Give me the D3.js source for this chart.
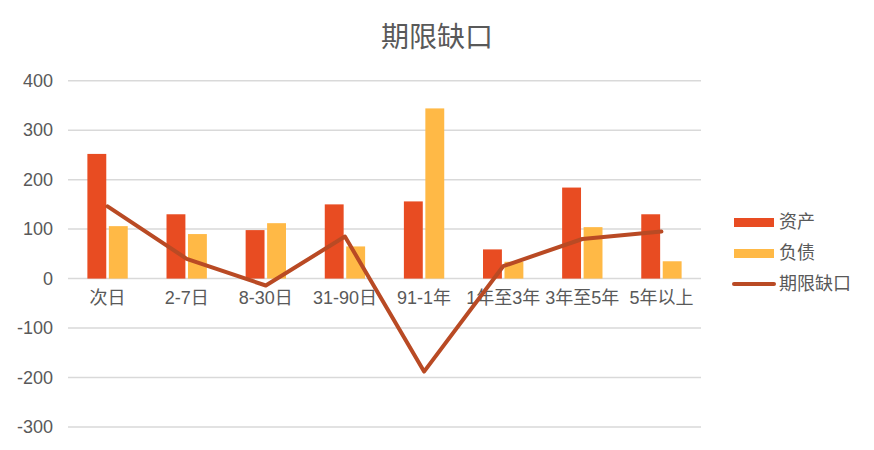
<!DOCTYPE html>
<html lang="zh">
<head>
  <meta charset="UTF-8" />
  <title>期限缺口</title>
  <script src="https://d3js.org/d3.v7.min.js"></script>
  <style>
    * { margin: 0; padding: 0; box-sizing: border-box; }
    body { background: #fff; font-family: "Noto Sans CJK SC", "Liberation Sans", sans-serif; }
  </style>
</head>
<body>
  <script>
    // data
    const categories = ['次日', '2-7日', '8-30日', '31-90日', '91-1年', '1年至3年', '3年至5年', '5年以上'];
    const assets = [252, 130, 98, 150, 156, 59, 184, 130];
    const liabilities = [106, 90, 112, 65, 344, 34, 104, 35];
    const gap = [146, 40, -14, 85, -188, 25, 80, 95];
    const yTicks = [-300, -200, -100, 0, 100, 200, 300, 400];
    const seriesNames = ['资产', '负债', '期限缺口'];

    const [w, h] = [874, 450];
    const colors = { asset: '#E84C22', liab: '#FFB946', line: '#B94A24' };
    const textColor = '#595959';
    const labelFont = '"Liberation Sans", "Noto Sans CJK SC", sans-serif';

    const svg = d3.select('body').append('svg')
      .attr('width', w)
      .attr('height', h);

    // title
    svg.append('text')
      .attr('x', 437)
      .attr('y', 37)
      .attr('dy', '0.35em')
      .attr('text-anchor', 'middle')
      .style('font-size', '28px')
      .style('fill', textColor)
      .text('期限缺口');

    // scales
    const x = d3.scaleBand()
      .domain(categories)
      .range([68, 701]);

    const y = d3.scaleLinear()
      .domain([-300, 400])
      .range([427, 80.7]);

    const xSub = d3.scaleBand()
      .domain(['asset', 'liab'])
      .range([x.bandwidth() * 0.245, x.bandwidth() * 0.755])
      .paddingInner(0.12);

    // grid
    svg.append('g')
      .selectAll('line')
      .data(yTicks)
      .join('line')
      .attr('x1', 68)
      .attr('x2', 701)
      .attr('y1', d => y(d))
      .attr('y2', d => y(d))
      .attr('stroke', '#d9d9d9')
      .attr('stroke-width', 1.5);

    // y axis
    const yAxis = d3.axisLeft(y)
      .tickValues(yTicks)
      .tickFormat(d => String(d))
      .tickSize(0)
      .tickPadding(15);
    const gy = svg.append('g')
      .attr('transform', 'translate(68,0)')
      .call(yAxis);
    gy.select('.domain').remove();
    gy.selectAll('text')
      .style('font-size', '18px')
      .style('font-family', labelFont)
      .style('fill', textColor);

    // bars
    const groups = svg.append('g')
      .selectAll('g')
      .data(categories.map((c, i) => ({ c, asset: assets[i], liab: liabilities[i] })))
      .join('g')
      .attr('transform', d => `translate(${x(d.c)},0)`);

    groups.selectAll('rect')
      .data(d => [{ k: 'asset', v: d.asset }, { k: 'liab', v: d.liab }])
      .join('rect')
      .attr('x', d => xSub(d.k))
      .attr('width', xSub.bandwidth())
      .attr('y', d => y(Math.max(0, d.v)))
      .attr('height', d => Math.abs(y(d.v) - y(0)))
      .attr('fill', d => colors[d.k]);

    // x axis labels
    const xAxis = d3.axisBottom(x).tickSize(0).tickPadding(13);
    const gx = svg.append('g')
      .attr('transform', `translate(0,${y(0)})`)
      .call(xAxis);
    gx.select('.domain').remove();
    gx.selectAll('text')
      .style('font-size', '18px')
      .style('font-family', labelFont)
      .style('fill', textColor);

    // line
    const line = d3.line()
      .x((d, i) => x(categories[i]) + x.bandwidth() / 2)
      .y(d => y(d));

    svg.append('path')
      .datum(gap)
      .attr('d', line)
      .attr('fill', 'none')
      .attr('stroke', colors.line)
      .attr('stroke-width', 4)
      .attr('stroke-linecap', 'round')
      .attr('stroke-linejoin', 'round');

    // legend
    const legend = svg.append('g').attr('transform', 'translate(734,222)');
    const items = legend.selectAll('g')
      .data(seriesNames)
      .join('g')
      .attr('transform', (d, i) => `translate(0,${i * 31})`);

    items.each(function (d, i) {
      const g = d3.select(this);
      if (i < 2) {
        g.append('rect')
          .attr('x', 0).attr('y', -4)
          .attr('width', 40).attr('height', 9)
          .attr('fill', i === 0 ? colors.asset : colors.liab);
      } else {
        g.append('line')
          .attr('x1', 0).attr('x2', 40)
          .attr('stroke', colors.line)
          .attr('stroke-width', 4)
          .attr('stroke-linecap', 'round');
      }
      g.append('text')
        .attr('x', 45)
        .attr('dy', '0.35em')
        .style('font-size', '18px')
        .style('fill', textColor)
        .text(d);
    });
  </script>
</body>
</html>
